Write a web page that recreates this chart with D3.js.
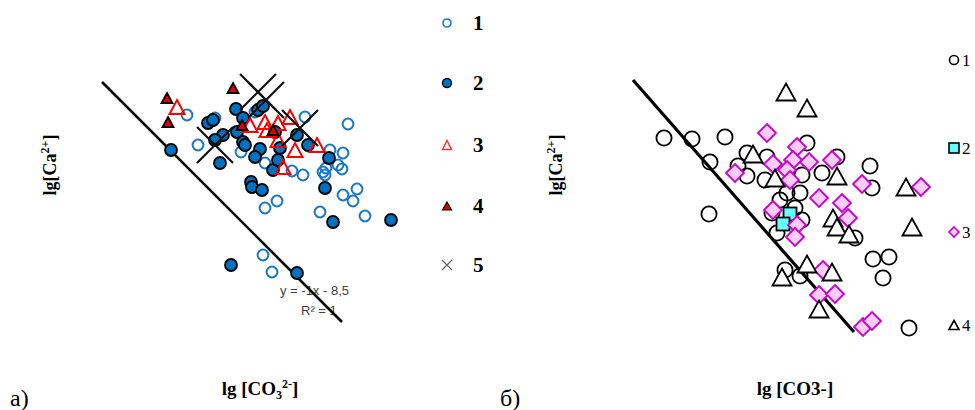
<!DOCTYPE html>
<html><head><meta charset="utf-8">
<script src="https://cdn.jsdelivr.net/npm/d3@7"></script>
<style>body{margin:0;background:#fff}svg{display:block}</style>
</head><body>
<script>
// ---- Panel a) data: [lg CO3, lg Ca] ----
const aSeries1 = [[-5.15,-2.83],[-4.87,-2.86],[-5.04,-3.13],[-4.61,-3.20],[-4.47,-2.80],[-3.97,-2.85],[-3.54,-2.92],[-3.72,-3.18],[-3.59,-3.21],[-3.79,-3.40],[-3.76,-3.36],[-3.64,-3.33],[-3.60,-3.37],[-3.99,-3.43],[-4.10,-3.39],[-4.37,-3.31],[-4.25,-3.69],[-4.37,-3.76],[-3.82,-3.80],[-3.59,-3.63],[-3.45,-3.57],[-3.49,-3.69],[-3.37,-3.84],[-4.39,-4.23],[-4.30,-4.40],[-3.77,-3.43]];
const aSeries2 = [[-5.31,-3.18],[-4.66,-2.77],[-4.94,-2.91],[-4.89,-2.88],[-4.79,-3.03],[-4.87,-3.08],[-4.82,-3.31],[-4.65,-3.00],[-4.59,-3.10],[-4.57,-3.13],[-4.44,-2.78],[-4.39,-2.74],[-4.42,-3.17],[-4.47,-3.25],[-4.29,-3.38],[-4.24,-3.28],[-4.22,-3.16],[-4.27,-3.00],[-4.05,-3.03],[-3.94,-3.13],[-3.73,-3.26],[-4.51,-3.50],[-4.50,-3.55],[-4.40,-3.58],[-3.77,-3.56],[-3.69,-3.90],[-4.71,-4.33],[-4.05,-4.41],[-3.11,-3.88],[-4.59,-2.86]];
const aSeries3 = [[-5.25,-2.75],[-4.52,-2.93],[-4.37,-2.90],[-4.35,-2.98],[-4.24,-2.91],[-4.12,-2.85],[-4.24,-3.08],[-4.07,-3.18],[-4.19,-3.35],[-3.85,-3.13]];
const aSeries4 = [[-5.35,-2.66],[-5.34,-2.90],[-4.69,-2.56],[-4.60,-2.93],[-4.29,-2.98]];
const aSeries5 = [[-4.44,-2.60],[-4.36,-2.68],[-4.87,-3.13],[-4.02,-2.96]];
const aTrendX = [-6.0, -3.6];            // y = -1x - 8,5
const aLegendLabels = ["1","2","3","4","5"];

// ---- Panel б) data: [lg CO3, lg Ca] ----
const bSeries1 = [[-5.69,-3.08],[-5.41,-3.09],[-5.08,-3.07],[-5.23,-3.32],[-5.24,-3.84],[-4.95,-3.36],[-4.86,-3.46],[-4.86,-3.23],[-4.66,-3.27],[-4.68,-3.50],[-4.26,-3.13],[-4.31,-3.45],[-4.33,-3.63],[-4.46,-3.63],[-4.53,-3.70],[-4.61,-3.83],[-4.56,-4.03],[-4.31,-3.90],[-4.11,-3.43],[-3.96,-3.27],[-3.63,-3.36],[-3.61,-3.58],[-3.78,-4.08],[-3.60,-4.29],[-3.44,-4.27],[-3.50,-4.48],[-3.24,-4.98],[-4.48,-4.40],[-4.33,-4.46],[-4.38,-3.78]];
const bSeries2 = [[-4.43,-3.84],[-4.50,-3.94]];
const bSeries3 = [[-4.66,-3.03],[-4.36,-3.17],[-4.40,-3.30],[-4.24,-3.32],[-4.01,-3.30],[-4.60,-3.34],[-4.46,-3.40],[-4.43,-3.50],[-4.98,-3.43],[-3.71,-3.54],[-3.12,-3.57],[-4.14,-3.68],[-3.91,-3.73],[-3.85,-3.88],[-4.60,-3.80],[-4.36,-3.95],[-4.38,-4.07],[-4.10,-4.40],[-4.14,-4.65],[-3.98,-4.64],[-3.70,-4.97],[-3.61,-4.91]];
const bSeries4 = [[-4.47,-2.62],[-4.26,-2.78],[-4.80,-3.24],[-4.58,-3.48],[-3.96,-3.46],[-3.27,-3.57],[-3.21,-3.97],[-4.00,-3.88],[-3.96,-3.97],[-3.84,-4.04],[-4.26,-4.34],[-4.01,-4.42],[-4.51,-4.47],[-4.14,-4.79]];
const bLine = [[-6.0,-2.5],[-3.79,-5.02]];
const bLegendLabels = ["1","2","3","4"];

const W = 975, H = 410;
const SERIF = "'Liberation Serif', 'Times New Roman', serif";
const SANS = "'Liberation Sans', Arial, sans-serif";
const svg = d3.select("body").append("svg").attr("width", W).attr("height", H)
  .style("font-family", SERIF);

// scales (no visible axes in the original)
const ax = d3.scaleLinear().domain([-6, -3]).range([102, 402]);
const ay = d3.scaleLinear().domain([-2.5, -5.5]).range([82, 382]);
const bx = d3.scaleLinear().domain([-6, -3]).range([633, 933]);
const by = d3.scaleLinear().domain([-2.5, -5.5]).range([80, 380]);

function tri(cx, cy, w, h) {
  return `M${cx},${cy - h/2}L${cx + w/2},${cy + h/2}L${cx - w/2},${cy + h/2}Z`;
}
function cross(cx, cy, s) {
  return `M${cx - s},${cy - s}L${cx + s},${cy + s}M${cx + s},${cy - s}L${cx - s},${cy + s}`;
}
function diamond(cx, cy, s) {
  return `M${cx},${cy - s}L${cx + s},${cy}L${cx},${cy + s}L${cx - s},${cy}Z`;
}

// ================= Panel a =================
const ga = svg.append("g");
ga.append("text").attr("x", 280).attr("y", 295).attr("font-family", SANS)
  .attr("font-size", 13).attr("fill", "#404040").text("y = -1x - 8,5");
ga.append("text").attr("x", 301).attr("y", 315).attr("font-family", SANS)
  .attr("font-size", 13).attr("fill", "#404040").text("R² = 1");
ga.append("line")
  .attr("x1", ax(aTrendX[0])).attr("y1", ay(-aTrendX[0] - 8.5))
  .attr("x2", ax(aTrendX[1])).attr("y2", ay(-aTrendX[1] - 8.5))
  .attr("stroke", "#000").attr("stroke-width", 2.6);

ga.selectAll(".s1").data(aSeries1).join("circle")
  .attr("cx", d => ax(d[0])).attr("cy", d => ay(d[1])).attr("r", 5.4)
  .attr("fill", "none").attr("stroke", "#1a78c8").attr("stroke-width", 2);
ga.selectAll(".s2").data(aSeries2).join("circle")
  .attr("cx", d => ax(d[0])).attr("cy", d => ay(d[1])).attr("r", 6)
  .attr("fill", "#0070C0").attr("stroke", "#000").attr("stroke-width", 1.8);
ga.selectAll(".s3").data(aSeries3).join("path")
  .attr("d", d => tri(ax(d[0]), ay(d[1]), 15, 14))
  .attr("fill", "none").attr("stroke", "#ff0000").attr("stroke-width", 2);
ga.selectAll(".s4").data(aSeries4).join("path")
  .attr("d", d => tri(ax(d[0]), ay(d[1]), 11, 10))
  .attr("fill", "#e00000").attr("stroke", "#000").attr("stroke-width", 1.8);
ga.selectAll(".s5").data(aSeries5).join("path")
  .attr("d", d => cross(ax(d[0]), ay(d[1]), 18))
  .attr("fill", "none").attr("stroke", "#111").attr("stroke-width", 2.2);

// legend a
const laY = [23, 83, 145, 206, 265], lax = 447;
ga.append("circle").attr("cx", lax).attr("cy", laY[0]).attr("r", 4).attr("fill", "none").attr("stroke", "#1a78c8").attr("stroke-width", 1.6);
ga.append("circle").attr("cx", lax).attr("cy", laY[1]).attr("r", 4.5).attr("fill", "#0070C0").attr("stroke", "#000").attr("stroke-width", 1.3);
ga.append("path").attr("d", tri(lax, laY[2], 9, 9)).attr("fill", "none").attr("stroke", "#ff3333").attr("stroke-width", 1.5);
ga.append("path").attr("d", tri(lax, laY[3], 9, 8)).attr("fill", "#e00000").attr("stroke", "#000").attr("stroke-width", 1.2);
ga.append("path").attr("d", cross(lax, laY[4], 5)).attr("fill", "none").attr("stroke", "#666").attr("stroke-width", 1.3);
ga.selectAll(".la").data(aLegendLabels).join("text")
  .attr("x", 473).attr("y", (d, i) => laY[i] + 7).attr("font-family", SERIF)
  .attr("font-size", 21).attr("font-weight", "bold").text(d => d);

// axis labels a
const yla = ga.append("text").attr("transform", "translate(56,165) rotate(-90)").attr("text-anchor", "middle")
  .attr("font-family", SERIF).attr("font-size", 18).attr("font-weight", "bold");
yla.append("tspan").text("lg[Ca");
yla.append("tspan").attr("dy", -7).attr("font-size", 12).text("2+");
yla.append("tspan").attr("dy", 7).text("]");
const xla = ga.append("text").attr("x", 260).attr("y", 395).attr("text-anchor", "middle")
  .attr("font-family", SERIF).attr("font-size", 19).attr("font-weight", "bold");
xla.append("tspan").text("lg [CO");
xla.append("tspan").attr("dy", 4).attr("font-size", 12).text("3");
xla.append("tspan").attr("dy", -11).attr("font-size", 12).text("2-");
xla.append("tspan").attr("dy", 7).text("]");
ga.append("text").attr("x", 10).attr("y", 406).attr("font-family", SERIF).attr("font-size", 24).text("а)");

// ================= Panel б =================
const gb = svg.append("g");
gb.append("line")
  .attr("x1", bx(bLine[0][0])).attr("y1", by(bLine[0][1]))
  .attr("x2", bx(bLine[1][0])).attr("y2", by(bLine[1][1]))
  .attr("stroke", "#000").attr("stroke-width", 3.2);
gb.selectAll(".b1").data(bSeries1).join("circle")
  .attr("cx", d => bx(d[0])).attr("cy", d => by(d[1])).attr("r", 7.6)
  .attr("fill", "none").attr("stroke", "#000").attr("stroke-width", 1.8);
gb.selectAll(".b2").data(bSeries2).join("rect")
  .attr("x", d => bx(d[0]) - 6.5).attr("y", d => by(d[1]) - 6.5).attr("width", 13).attr("height", 13)
  .attr("fill", "#66ffff").attr("stroke", "#000").attr("stroke-width", 1.8);
gb.selectAll(".b3").data(bSeries3).join("path")
  .attr("d", d => diamond(bx(d[0]), by(d[1]), 9))
  .attr("fill", "#ffccff").attr("stroke", "#cc00cc").attr("stroke-width", 1.8);
gb.selectAll(".b4").data(bSeries4).join("path")
  .attr("d", d => tri(bx(d[0]), by(d[1]), 19, 17))
  .attr("fill", "#fff").attr("stroke", "#000").attr("stroke-width", 1.8);

// legend b
const lbY = [60, 148, 232, 325], lbx = 954;
gb.append("circle").attr("cx", lbx).attr("cy", lbY[0]).attr("r", 4.5).attr("fill", "none").attr("stroke", "#000").attr("stroke-width", 1.6);
gb.append("rect").attr("x", lbx - 5).attr("y", lbY[1] - 5).attr("width", 10).attr("height", 10).attr("fill", "#66ffff").attr("stroke", "#000").attr("stroke-width", 1.6);
gb.append("path").attr("d", diamond(lbx, lbY[2], 5)).attr("fill", "#ffccff").attr("stroke", "#cc00cc").attr("stroke-width", 1.6);
gb.append("path").attr("d", tri(lbx, lbY[3], 10, 9)).attr("fill", "#fff").attr("stroke", "#000").attr("stroke-width", 1.6);
gb.selectAll(".lb").data(bLegendLabels).join("text")
  .attr("x", 962).attr("y", (d, i) => lbY[i] + 6).attr("font-family", SERIF).attr("font-size", 17).text(d => d);

const ylb = gb.append("text").attr("transform", "translate(562,165) rotate(-90)").attr("text-anchor", "middle")
  .attr("font-family", SERIF).attr("font-size", 18).attr("font-weight", "bold");
ylb.append("tspan").text("lg[Ca");
ylb.append("tspan").attr("dy", -7).attr("font-size", 12).text("2+");
ylb.append("tspan").attr("dy", 7).text("]");
gb.append("text").attr("x", 795).attr("y", 395).attr("text-anchor", "middle")
  .attr("font-family", SERIF).attr("font-size", 19).attr("font-weight", "bold").text("lg [CO3-]");
gb.append("text").attr("x", 500).attr("y", 406).attr("font-family", SERIF).attr("font-size", 24).text("б)");
</script>
</body></html>
